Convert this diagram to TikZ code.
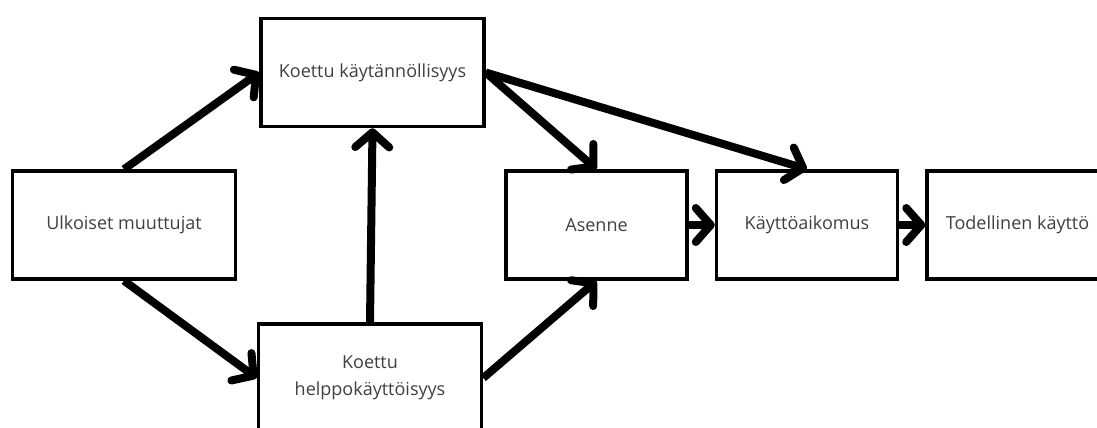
\documentclass[tikz,border=0pt]{standalone}
\usepackage{fontspec}
\setmainfont{Open Sans}
\usetikzlibrary{arrows.meta}
\begin{document}
\begin{tikzpicture}[x=1pt,y=-1pt,
  box/.style={draw=black,line width=3.5pt,fill=white,minimum height=108pt,inner sep=0pt,align=center,
    font=\fontsize{18}{27}\selectfont,text=black!75},
  wide/.style={box,minimum width=223pt},
  narrow/.style={box,minimum width=181pt},
  conn/.style={line width=8pt,-{Straight Barb[length=15pt,width=34pt,line cap=round,line join=round]}}]
\useasboundingbox (0,0) rectangle (1097,428);
\node[wide] (u) at (124,225) {Ulkoiset muuttujat};
\node[wide] (k) at (372.5,72.5) {Koettu käytännöllisyys};
\node[wide] (h) at (370,378) {Koettu\\helppokäyttöisyys};
\node[narrow] (a) at (596.5,225) {Asenne};
\node[narrow] (ka) at (807,225) {Käyttöaikomus};
\node[narrow] (t) at (1017.5,225) {Todellinen käyttö};
\draw[conn] (u.north) -- (k.west);
\draw[conn] (u.south) -- (h.west);
\draw[conn] (h.north) -- (k.south);
\draw[conn] (k.east) -- (a.north);
\draw[conn] (k.east) -- (ka.north);
\draw[conn] (h.east) -- (a.south);
\draw[conn] (a.east) -- (ka.west);
\draw[conn] (ka.east) -- (t.west);
\end{tikzpicture}
\end{document}
